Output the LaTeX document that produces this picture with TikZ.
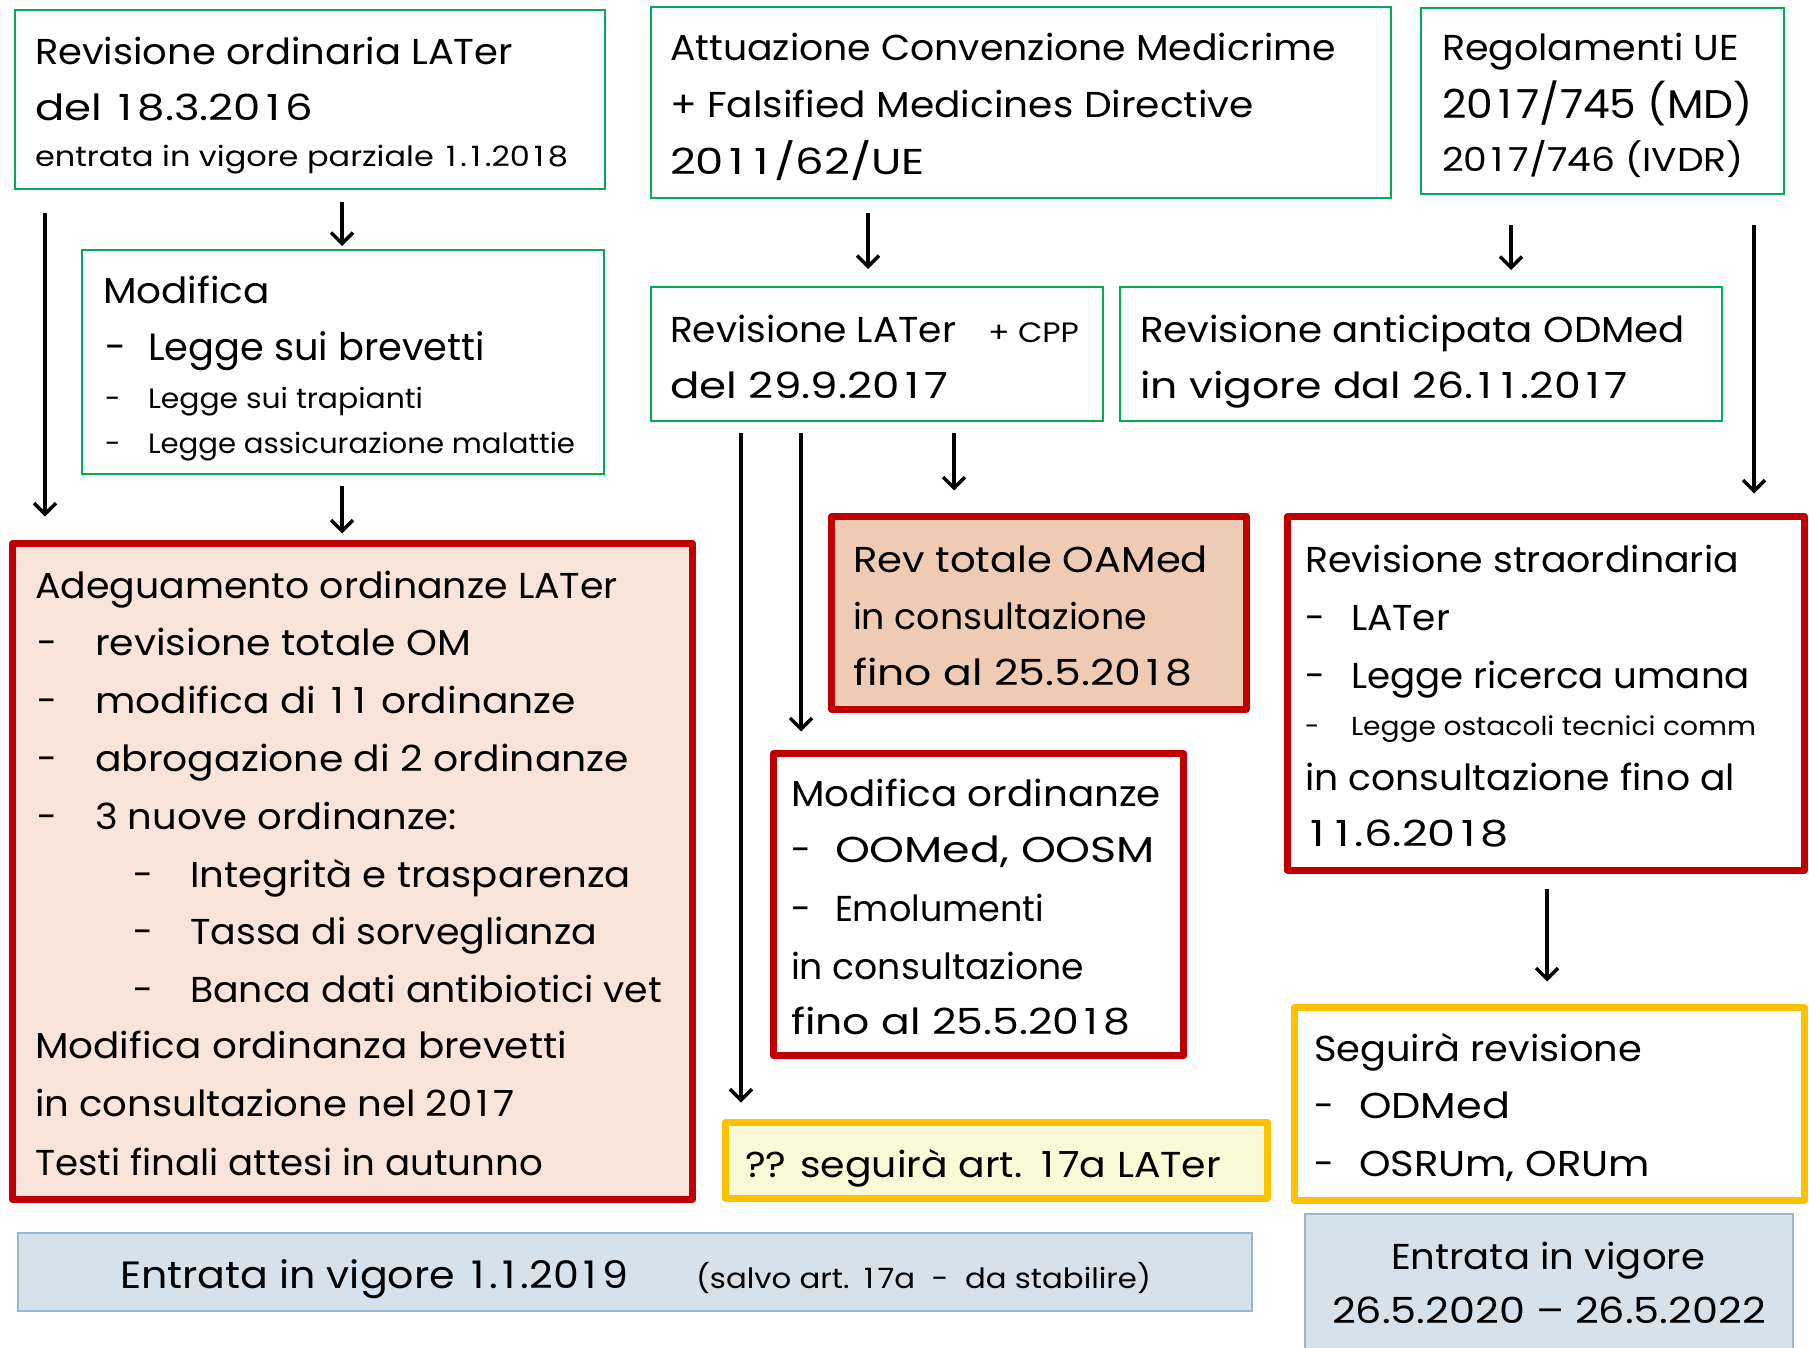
\documentclass[tikz,border=0pt]{standalone}
\usepackage{fontspec}
\setmainfont{Poppins}
\usetikzlibrary{arrows.meta}
\definecolor{gr}{HTML}{00B050}
\definecolor{rd}{HTML}{C00000}
\definecolor{yl}{HTML}{FFC000}
\definecolor{peachA}{HTML}{F8E4D8}
\definecolor{peachB}{HTML}{F0CBB4}
\definecolor{ylfill}{HTML}{F7FAD4}
\definecolor{blfill}{HTML}{D5E2EC}
\definecolor{bldraw}{HTML}{9BB6D5}
\newcommand\one{\makebox[0.56em]{1}}
% name, x, baseline y, font size, target width, text
\newcommand\TL[6]{\node[tl] (#1) at (#2,#3) {\resizebox{#5pt}{\height}{\fontsize{#4}{#4}\selectfont #6}};}
\newcommand\TC[6]{\node[tlc] (#1) at (#2,#3) {\resizebox{#5pt}{\height}{\fontsize{#4}{#4}\selectfont #6}};}
\newcommand\TD[4]{\node[tl] (#1) at (#2,#3) {\fontsize{#4}{#4}\selectfont -};}
\tikzset{
  tl/.style={anchor=base west, inner sep=0pt, outer sep=0pt},
  tlc/.style={anchor=base, inner sep=0pt, outer sep=0pt},
  bx/.style={anchor=north west, inner sep=0pt, outer sep=0pt},
  gbox/.style={bx, draw=gr, line width=2.5pt, fill=white},
  rbox/.style={bx, draw=rd, line width=7pt, line join=round},
  ybox/.style={bx, draw=yl, line width=7pt, line join=round},
  bbox/.style={bx, draw=bldraw, line width=2.5pt, fill=blfill},
  arr/.style={line width=3.5pt, -{Straight Barb[length=11pt,width=22pt,line width=3.5pt]}},
}
\begin{document}
\begin{tikzpicture}[x=1pt,y=-1pt]
\useasboundingbox (0,0) rectangle (1809,1348);
\clip (0,0) rectangle (1809,1348);
\fill[white] (0,0) rectangle (1809,1348);
% ---------- boxes ----------
\node[gbox, minimum width=590pt, minimum height=179pt] (b1) at (15,10) {};
\node[gbox, minimum width=522pt, minimum height=224pt] (mod) at (82,250) {};
\node[rbox, fill=peachA, minimum width=680pt, minimum height=656pt] (adeg) at (12.5,543.5) {};
\node[gbox, minimum width=740pt, minimum height=191pt] (att) at (651,7) {};
\node[gbox, minimum width=363pt, minimum height=186pt] (reg) at (1421,8) {};
\node[gbox, minimum width=452pt, minimum height=134pt] (revL) at (651,287) {};
\node[gbox, minimum width=602pt, minimum height=134pt] (revA) at (1120,287) {};
\node[rbox, fill=peachB, minimum width=414.5pt, minimum height=192.5pt] (revT) at (831.5,516.5) {};
\node[rbox, fill=white, minimum width=410pt, minimum height=302pt] (modO) at (773.5,753.5) {};
\node[ybox, fill=ylfill, minimum width=541.5pt, minimum height=75.5pt] (seg17) at (725.5,1122.5) {};
\node[rbox, fill=white, minimum width=517pt, minimum height=353.5pt] (revS) at (1287.5,516.5) {};
\node[ybox, fill=white, minimum width=510pt, minimum height=193pt] (segR) at (1294.5,1007.5) {};
\node[bbox, minimum width=1234pt, minimum height=78pt] (ent1) at (18,1233) {};
\node[bbox, minimum width=488pt, minimum height=160pt] (ent2) at (1305,1214) {};
% ---------- arrows ----------
\draw[arr, shorten <=24pt, shorten >=27pt] (b1.south -| 45,0) -- (adeg.north -| 45,0);
\draw[arr, shorten <=13pt, shorten >=4pt] (b1.south -| 342,0) -- (mod.north -| 342,0);
\draw[arr, shorten <=12pt, shorten >=10pt] (mod.south -| 342,0) -- (adeg.north -| 342,0);
\draw[arr, shorten <=15pt, shorten >=18pt] (att.south -| 868,0) -- (revL.north -| 868,0);
\draw[arr, shorten <=31pt, shorten >=17pt] (reg.south -| 1511,0) -- (revA.north -| 1511,0);
\draw[arr, shorten <=31pt, shorten >=23pt] (reg.south -| 1754,0) -- (revS.north -| 1754,0);
\draw[arr, shorten <=12pt, shorten >=20pt] (revL.south -| 741,0) -- (seg17.north -| 741,0);
\draw[arr, shorten <=12pt, shorten >=22pt] (revL.south -| 801,0) -- (modO.north -| 801,0);
\draw[arr, shorten <=12pt, shorten >=26pt] (revL.south -| 954,0) -- (revT.north -| 954,0);
\draw[arr, shorten <=19pt, shorten >=26pt] (revS.south -| 1547,0) -- (segR.north -| 1547,0);
% ---------- texts ----------
\TL{b1a}{35}{65}{36}{478}{Revisione ordinaria LATer}
\TL{b1b}{35}{121}{36}{278}{del \one8.3.20\one6}
\TL{b1c}{35}{167}{28}{533}{entrata in vigore parziale \one.\one.20\one8}
\TL{m1}{103}{303}{36}{167}{Modifica}
\TD{m2d}{105}{360}{38}\TL{m2}{148}{360}{38}{337}{Legge sui brevetti}
\TD{m3d}{105}{408}{28}\TL{m3}{148}{408}{28}{275}{Legge sui trapianti}
\TD{m4d}{105}{453}{28}\TL{m4}{148}{453}{28}{427}{Legge assicurazione malattie}
\TL{a1}{35}{598}{36}{583}{Adeguamento ordinanze LATer}
\TD{a2d}{37}{655}{36}\TL{a2}{95}{655}{36}{376}{revisione totale OM}
\TD{a3d}{37}{713}{36}\TL{a3}{95}{713}{36}{481}{modifica di \one\one\ ordinanze}
\TD{a4d}{37}{771}{36}\TL{a4}{95}{771}{36}{534}{abrogazione di 2 ordinanze}
\TD{a5d}{37}{829}{36}\TL{a5}{95}{829}{36}{362}{3 nuove ordinanze:}
\TD{a6d}{133}{887}{36}\TL{a6}{190}{887}{36}{441}{Integrità e trasparenza}
\TD{a7d}{133}{944}{36}\TL{a7}{190}{944}{36}{407}{Tassa di sorveglianza}
\TD{a8d}{133}{1002}{36}\TL{a8}{190}{1002}{36}{472}{Banca dati antibiotici vet}
\TL{a9}{35}{1058}{36}{532}{Modifica ordinanza brevetti}
\TL{a10}{35}{1116}{36}{480}{in consultazione nel 20\one7}
\TL{a11}{35}{1175}{36}{508}{Testi finali attesi in autunno}
\TL{t1}{670}{61}{36}{666}{Attuazione Convenzione Medicrime}
\TL{t2}{670}{118}{36}{584}{+ Falsified Medicines Directive}
\TL{t3}{670}{175}{36}{255}{20\one\one/62/UE}
\TL{r1}{1442}{61}{36}{297}{Regolamenti UE}
\TL{r2}{1442}{119}{40}{311}{20\one7/745 (MD)}
\TL{r3}{1442}{172}{33}{302}{20\one7/746 (IVDR)}
\TL{l1}{670}{342}{36}{286}{Revisione LATer}
\TL{l1b}{988}{342}{28}{91}{+ CPP}
\TL{l2}{670}{398}{36}{278}{del 29.9.20\one7}
\TL{v1}{1140}{342}{36}{545}{Revisione anticipata ODMed}
\TL{v2}{1140}{398}{36}{488}{in vigore dal 26.\one\one.20\one7}
\TL{o1}{853}{572}{36}{355}{Rev totale OAMed}
\TL{o2}{853}{629}{36}{294}{in consultazione}
\TL{o3}{853}{685}{36}{339}{fino al 25.5.20\one8}
\TL{d1}{791}{806}{36}{370}{Modifica ordinanze}
\TD{d2d}{791}{862}{36}\TL{d2}{835}{862}{36}{320}{OOMed, OOSM}
\TD{d3d}{791}{921}{36}\TL{d3}{835}{921}{36}{209}{Emolumenti}
\TL{d4}{791}{979}{36}{293}{in consultazione}
\TL{d5}{791}{1034}{36}{339}{fino al 25.5.20\one8}
\TL{q1}{745}{1177}{36}{476}{?? seguirà art. \one7a LATer}
\TL{s1}{1305}{572}{36}{434}{Revisione straordinaria}
\TD{s2d}{1305}{630}{36}\TL{s2}{1351}{630}{36}{99}{LATer}
\TD{s3d}{1305}{688}{36}\TL{s3}{1351}{688}{36}{399}{Legge ricerca umana}
\TD{s4d}{1305}{735}{26}\TL{s4}{1351}{735}{26}{405}{Legge ostacoli tecnici comm}
\TL{s5}{1305}{790}{36}{430}{in consultazione fino al}
\TL{s6}{1305}{846}{36}{204}{\one\one.6.20\one8}
\TL{g1}{1314}{1061}{36}{328}{Seguirà revisione}
\TD{g2d}{1314}{1118}{36}\TL{g2}{1359}{1118}{36}{151}{ODMed}
\TD{g3d}{1314}{1176}{36}\TL{g3}{1359}{1176}{36}{291}{OSRUm, ORUm}
\TL{e1}{120}{1288}{38}{508}{Entrata in vigore \one.\one.20\one9}
\TL{e1b}{696}{1288}{28}{455}{(salvo art. \one7a\ \ -\ \ da stabilire)}
\TC{f1}{1548}{1269}{36}{314}{Entrata in vigore}
\TC{f2}{1549}{1323}{36}{434}{26.5.2020 – 26.5.2022}
\end{tikzpicture}
\end{document}
